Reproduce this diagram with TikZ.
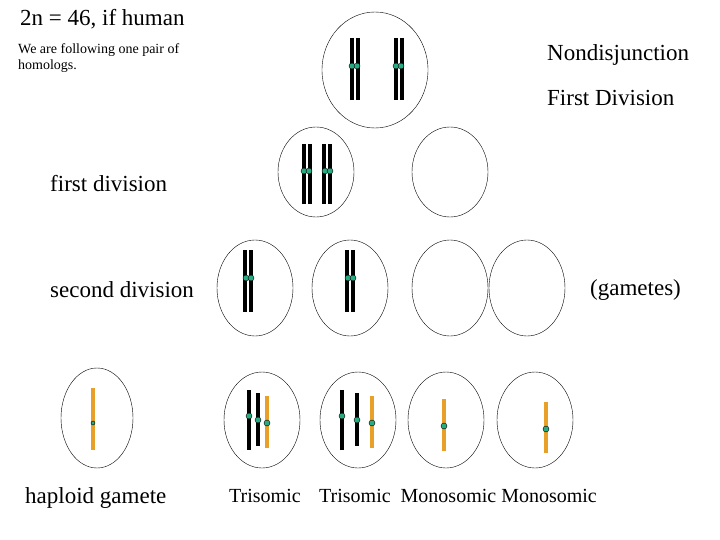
\documentclass[tikz,border=0pt]{standalone}
\usepackage{fontspec}
\setmainfont{Liberation Serif}
\begin{document}
\begin{tikzpicture}[x=1pt,y=-1pt,
 cell/.style={draw,thin},
 chr/.style={line width=3.2pt},
 och/.style={line width=3.2pt,draw={rgb,255:red,232;green,160;blue,40}},
 cen/.style={circle,draw=black,fill={rgb,255:red,40;green,170;blue,130},inner sep=0pt,minimum size=6pt},
 big/.style={anchor=west,inner sep=0pt,font=\fontsize{23}{26}\selectfont},
 lab/.style={anchor=west,inner sep=0pt}]
\useasboundingbox (0,0) rectangle (720,540);
% cells
\draw[cell] (375,70) ellipse (53 and 58);
\draw[cell] (316,172) ellipse (38 and 45);
\draw[cell] (450,172) ellipse (38 and 45);
\foreach \x in {255,350,450,527} \draw[cell] (\x,288) ellipse (38 and 48);
\draw[cell] (97,418) ellipse (36 and 50);
\foreach \x in {262,358,446,535} \draw[cell] (\x,420) ellipse (38 and 48);
% top cell
\foreach \x in {352,358,396,402} \draw[chr] (\x,38) -- (\x,100);
\foreach \x in {352,357,396,401} \node[cen] at (\x,66) {};
% row 2
\foreach \x in {304,310,324,330} \draw[chr] (\x,144) -- (\x,204);
\foreach \x in {304,309,325,330} \node[cen] at (\x,171) {};
% row 3
\foreach \x in {245,251,347,353} \draw[chr] (\x,250) -- (\x,312);
\foreach \x in {246,251,348,353} \node[cen] at (\x,278) {};
% row 4
\draw[och] (93,388) -- (93,450); \node[cen,minimum size=4pt] at (93,423) {};
\foreach \a/\b/\c in {249/258/267,342/357/372}{
 \draw[chr] (\a,390) -- (\a,450);
 \draw[chr] (\b,393) -- (\b,446);
 \draw[och] (\c,396) -- (\c,448);
 \node[cen] at (\a,416) {};
 \node[cen] at (\b,420) {};
 \node[cen] at (\c,423) {};
}
\draw[och] (444,399) -- (444,451); \node[cen] at (444,426) {};
\draw[och] (546,402) -- (546,453); \node[cen] at (546,429) {};
% texts
\node[big] at (20,19) {2n = 46, if human};
\node[lab,font=\fontsize{14}{16.5}\selectfont,align=left] at (18,58) {We are following one pair of\\homologs.};
\node[big] at (547,55) {Nondisjunction};
\node[big] at (547,98) {First Division};
\node[big] at (50,184) {first division};
\node[big] at (50,290) {second division};
\node[big] at (590,290) {(gametes)};
\node[big] at (25,498) {haploid gamete};
\node[lab,font=\fontsize{20}{23}\selectfont] at (229,496) {Trisomic};
\node[lab,font=\fontsize{20}{23}\selectfont] at (319,496) {Trisomic\ \ Monosomic Monosomic};
\end{tikzpicture}
\end{document}
